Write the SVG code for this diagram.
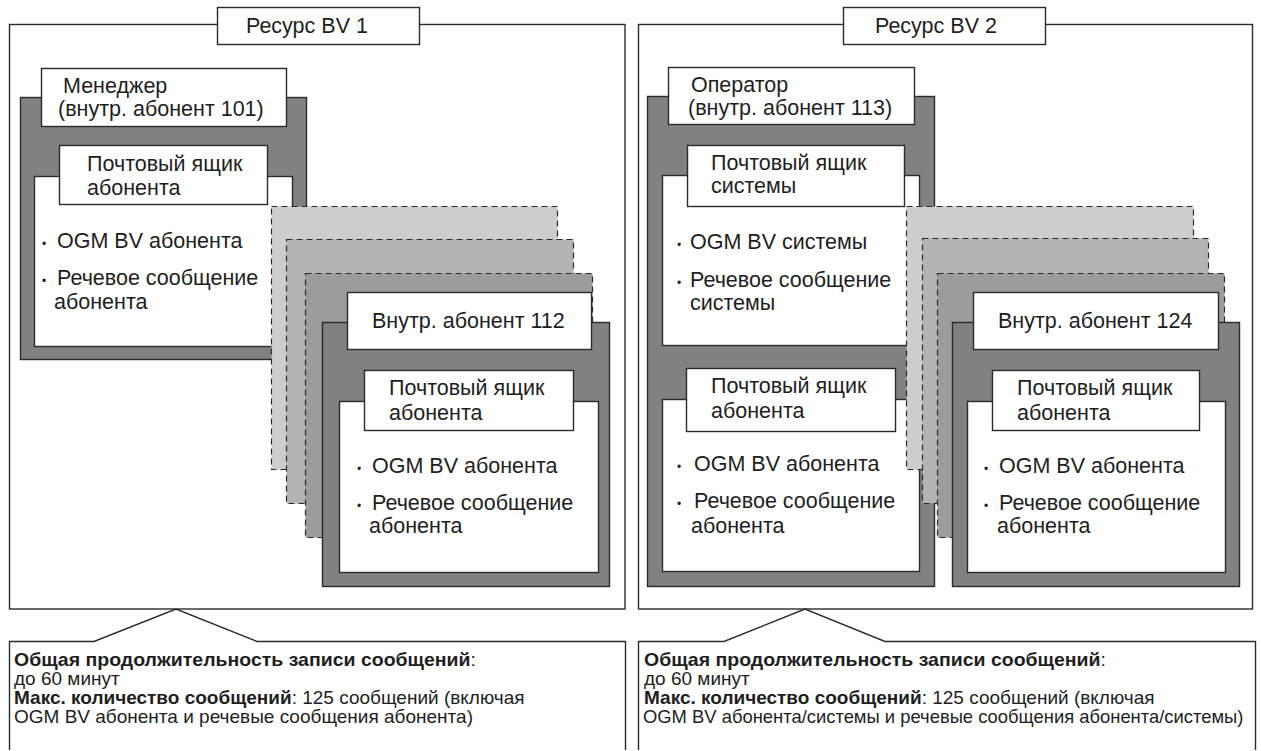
<svg xmlns="http://www.w3.org/2000/svg" width="1261" height="751" viewBox="0 0 1261 751">
<style>
.ln{fill:none;stroke:#2b2b2b;stroke-width:1.4}
.wb{fill:#fff;stroke:#2b2b2b;stroke-width:1.4}
.dk{fill:#818181;stroke:#2b2b2b;stroke-width:1.4}
.c1{fill:#cdcdcd;stroke:#2b2b2b;stroke-width:1.2;stroke-dasharray:6 4}
.c2{fill:#b4b4b4;stroke:#2b2b2b;stroke-width:1.2;stroke-dasharray:6 4}
.c3{fill:#9c9c9c;stroke:#2b2b2b;stroke-width:1.2;stroke-dasharray:6 4}
text{font-family:"Liberation Sans",Arial,sans-serif;fill:#1e1e1e}
.t{font-size:21.5px}
.b{font-size:12px}
.n{font-size:19px}
.s{font-size:18.4px}
.bd{font-weight:bold}
</style>
<rect width="1261" height="751" fill="#fff"/>

<!-- Left resource frame -->
<g id="resource1">
<rect class="ln" x="9.5" y="24.5" width="615.5" height="584.5"/>
<rect class="wb" x="217.5" y="7.5" width="202" height="37"/>
<text class="t" x="246" y="33">Ресурс BV 1</text>
</g>

<g id="manager">
<rect class="dk" x="20.5" y="97.5" width="286" height="262"/>
<rect class="wb" x="34.5" y="176.5" width="258" height="170"/>
<rect class="wb" x="41.5" y="68.5" width="245" height="58"/>
<text class="t" x="63" y="93">Менеджер</text>
<text class="t" x="58" y="116">(внутр. абонент 101)</text>
<rect class="wb" x="59.5" y="145.5" width="208" height="59"/>
<text class="t" x="87" y="171">Почтовый ящик</text>
<text class="t" x="87" y="195">абонента</text>
<text class="b" x="42" y="248">•</text>
<text class="t" x="57" y="248">OGM BV абонента</text>
<text class="b" x="42" y="285">•</text>
<text class="t" x="57" y="285">Речевое сообщение</text>
<text class="t" x="54" y="309">абонента</text>
</g>

<g id="stack1">
<rect class="c1" x="271.5" y="206.5" width="286" height="263"/>
<rect class="c2" x="286.5" y="239.5" width="287" height="264"/>
<rect class="c3" x="305.5" y="273.5" width="287" height="264"/>
</g>

<g id="ext112">
<rect class="dk" x="322.5" y="322.5" width="287" height="264"/>
<rect class="wb" x="347.5" y="292.5" width="244" height="57"/>
<text class="t" x="372" y="328">Внутр. абонент 112</text>
<rect class="wb" x="339.5" y="401.5" width="259" height="171"/>
<rect class="wb" x="364.5" y="370.5" width="209" height="60"/>
<text class="t" x="389" y="395">Почтовый ящик</text>
<text class="t" x="389" y="420">абонента</text>
<text class="b" x="357" y="473">•</text>
<text class="t" x="372" y="473">OGM BV абонента</text>
<text class="b" x="357" y="510">•</text>
<text class="t" x="372" y="510">Речевое сообщение</text>
<text class="t" x="369" y="533">абонента</text>
</g>

<!-- Right resource frame -->
<g id="resource2">
<rect class="ln" x="638.5" y="24.5" width="614" height="584.5"/>
<rect class="wb" x="843.5" y="7.5" width="202" height="37"/>
<text class="t" x="875" y="33">Ресурс BV 2</text>
</g>

<g id="operator">
<rect class="dk" x="647.5" y="96.5" width="287" height="490"/>
<rect class="wb" x="662.5" y="175.5" width="257" height="170"/>
<rect class="wb" x="668.5" y="67.5" width="246" height="57"/>
<text class="t" x="691" y="92">Оператор</text>
<text class="t" x="688" y="115">(внутр. абонент 113)</text>
<rect class="wb" x="687.5" y="145.5" width="217" height="61"/>
<text class="t" x="711" y="170">Почтовый ящик</text>
<text class="t" x="711" y="193">системы</text>
<text class="b" x="677" y="249">•</text>
<text class="t" x="690" y="249">OGM BV системы</text>
<text class="b" x="677" y="287">•</text>
<text class="t" x="690" y="287">Речевое сообщение</text>
<text class="t" x="690" y="310">системы</text>
<rect class="wb" x="662.5" y="399.5" width="257" height="172"/>
<rect class="wb" x="686.5" y="368.5" width="209" height="63"/>
<text class="t" x="711" y="393">Почтовый ящик</text>
<text class="t" x="711" y="418">абонента</text>
<text class="b" x="677" y="471">•</text>
<text class="t" x="694" y="471">OGM BV абонента</text>
<text class="b" x="677" y="508">•</text>
<text class="t" x="694" y="508">Речевое сообщение</text>
<text class="t" x="691" y="533">абонента</text>
</g>

<g id="stack2">
<rect class="c1" x="906.5" y="206.5" width="287" height="263"/>
<rect class="c2" x="922.5" y="238.5" width="286" height="265"/>
<rect class="c3" x="937.5" y="273.5" width="287" height="264"/>
</g>

<g id="ext124">
<rect class="dk" x="952.5" y="322.5" width="287" height="264"/>
<rect class="wb" x="973.5" y="292.5" width="245" height="57"/>
<text class="t" x="998" y="328">Внутр. абонент 124</text>
<rect class="wb" x="967.5" y="401.5" width="258" height="171"/>
<rect class="wb" x="992.5" y="370.5" width="207" height="60"/>
<text class="t" x="1017" y="395">Почтовый ящик</text>
<text class="t" x="1017" y="420">абонента</text>
<text class="b" x="984" y="473">•</text>
<text class="t" x="999" y="473">OGM BV абонента</text>
<text class="b" x="984" y="510">•</text>
<text class="t" x="999" y="510">Речевое сообщение</text>
<text class="t" x="997" y="533">абонента</text>
</g>

<g id="connectors"></g>

<g id="note1">
<path class="wb" d="M9.5,750 V641.5 H94 L176,609 L257,641.5 H625.5 V750"/>
<text class="n" x="14" y="666" textLength="462" lengthAdjust="spacingAndGlyphs"><tspan class="bd">Общая продолжительность записи сообщений</tspan>:</text>
<text class="n" x="14" y="685">до 60 минут</text>
<text class="n" x="14" y="704"><tspan class="bd">Макс. количество сообщений</tspan>: 125 сообщений (включая</text>
<text class="n" x="14" y="723">OGM BV абонента и речевые сообщения абонента)</text>
</g>

<g id="note2">
<path class="wb" d="M638.5,750 V641.5 H724 L805,609 L885,641.5 H1255.5 V750"/>
<text class="n" x="644" y="666" textLength="462" lengthAdjust="spacingAndGlyphs"><tspan class="bd">Общая продолжительность записи сообщений</tspan>:</text>
<text class="n" x="644" y="685">до 60 минут</text>
<text class="n" x="644" y="704"><tspan class="bd">Макс. количество сообщений</tspan>: 125 сообщений (включая</text>
<text class="s" x="643" y="723">OGM BV абонента/системы и речевые сообщения абонента/системы)</text>
</g>
</svg>
